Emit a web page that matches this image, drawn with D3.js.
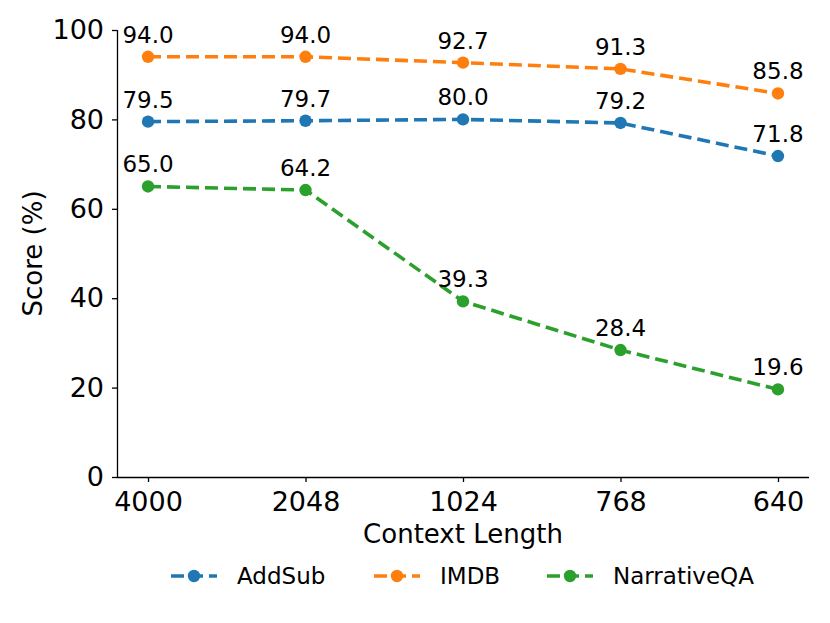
<!DOCTYPE html>
<html>
<head>
<meta charset="utf-8">
<script src="https://cdn.jsdelivr.net/npm/d3@7"></script>
<style>
  body { margin: 0; background: #fff; }
  text { font-family: "DejaVu Sans", sans-serif; fill: #000; }
</style>
</head>
<body>
<script>
// Data
var contextLengths = ["4000", "2048", "1024", "768", "640"];
var addSub = [79.5, 79.7, 80.0, 79.2, 71.8];
var imdb = [94.0, 94.0, 92.7, 91.3, 85.8];
var narrativeQA = [65.0, 64.2, 39.3, 28.4, 19.6];
var yTicks = [0, 20, 40, 60, 80, 100];

var series = [
  { name: "AddSub", values: addSub, color: "#1f77b4" },
  { name: "IMDB", values: imdb, color: "#ff7f0e" },
  { name: "NarrativeQA", values: narrativeQA, color: "#2ca02c" }
];

// Dimensions
var width = 830;
var height = 623;
var plotLeft = 117, plotRight = 809, plotTop = 30, plotBottom = 477;

var svg = d3.select("body")
  .append("svg")
  .attr("width", width)
  .attr("height", height);

// Scales
var x = d3.scalePoint()
  .domain(contextLengths)
  .range([plotLeft, plotRight])
  .padding(0.197);

var y = d3.scaleLinear()
  .domain([0, 100])
  .range([plotBottom, plotTop]);

// Axes
var xAxis = svg.append("g")
  .attr("transform", "translate(0," + plotBottom + ")")
  .call(d3.axisBottom(x).tickSize(5).tickPadding(10));

var yAxis = svg.append("g")
  .attr("transform", "translate(" + plotLeft + ",0)")
  .call(d3.axisLeft(y).tickValues(yTicks).tickSize(5).tickPadding(8));

[xAxis, yAxis].forEach(function (g) {
  g.selectAll(".domain").attr("stroke", "#000").attr("stroke-width", 1.3);
  g.selectAll(".tick line").attr("stroke", "#000").attr("stroke-width", 1.3);
  g.selectAll(".tick text")
    .style("font-family", "DejaVu Sans, sans-serif")
    .style("font-size", "27px")
    .attr("fill", "#000");
});
// spines without end ticks
xAxis.select(".domain").attr("d", "M" + plotLeft + ",0.5H" + plotRight);
yAxis.select(".domain").attr("d", "M0.5," + plotBottom + "V" + plotTop);

// Axis labels
svg.append("text")
  .attr("x", (plotLeft + plotRight) / 2)
  .attr("y", 543)
  .attr("text-anchor", "middle")
  .style("font-size", "26px")
  .text("Context Length");

svg.append("text")
  .attr("transform", "translate(42," + (plotTop + plotBottom) / 2 + ") rotate(-90)")
  .attr("text-anchor", "middle")
  .style("font-size", "26px")
  .text("Score (%)");

// Lines
var line = d3.line()
  .x(function (d, i) { return x(contextLengths[i]); })
  .y(function (d) { return y(d); });

var groups = svg.selectAll(".series")
  .data(series)
  .enter()
  .append("g")
  .attr("class", "series");

groups.append("path")
  .attr("d", function (d) { return line(d.values); })
  .attr("fill", "none")
  .attr("stroke", function (d) { return d.color; })
  .attr("stroke-width", 3.6)
  .attr("stroke-dasharray", "13,6");

groups.selectAll("circle")
  .data(function (d) { return d.values.map(function (v, i) { return { v: v, i: i, color: d.color }; }); })
  .enter()
  .append("circle")
  .attr("cx", function (d) { return x(contextLengths[d.i]); })
  .attr("cy", function (d) { return y(d.v); })
  .attr("r", 6.2)
  .attr("fill", function (d) { return d.color; });

groups.selectAll(".label")
  .data(function (d) { return d.values.map(function (v, i) { return { v: v, i: i }; }); })
  .enter()
  .append("text")
  .attr("class", "label")
  .attr("x", function (d) { return x(contextLengths[d.i]); })
  .attr("y", function (d) { return y(d.v) - 14; })
  .attr("text-anchor", "middle")
  .style("font-size", "23px")
  .text(function (d) { return d.v.toFixed(1); });

// Legend
var legendX = [171, 374, 547];
var legend = svg.selectAll(".legend")
  .data(series)
  .enter()
  .append("g")
  .attr("class", "legend")
  .attr("transform", function (d, i) { return "translate(" + legendX[i] + ",576)"; });

legend.append("line")
  .attr("x1", 0).attr("x2", 46)
  .attr("stroke", function (d) { return d.color; })
  .attr("stroke-width", 3.6)
  .attr("stroke-dasharray", "13,6");

legend.append("circle")
  .attr("cx", 23)
  .attr("r", 6.2)
  .attr("fill", function (d) { return d.color; });

legend.append("text")
  .attr("x", 66)
  .attr("dy", "0.36em")
  .style("font-size", "23px")
  .text(function (d) { return d.name; });
</script>
</body>
</html>
